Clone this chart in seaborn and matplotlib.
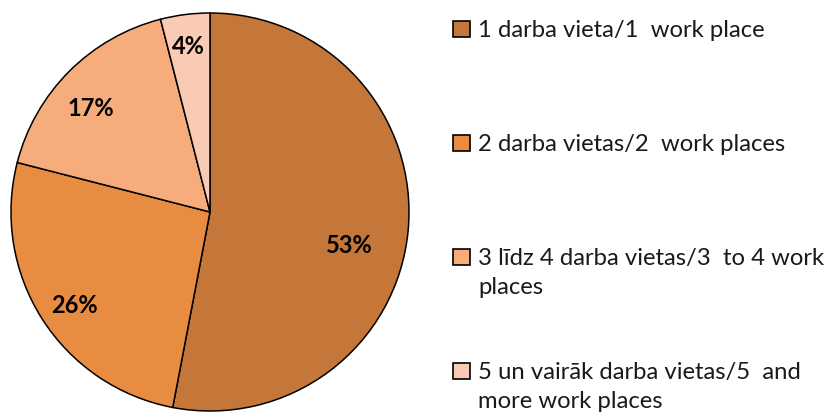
import matplotlib.pyplot as plt
import seaborn as sns
from matplotlib.patches import Rectangle

# Dati / data
categories = [
    "1 darba vieta/1  work place",
    "2 darba vietas/2  work places",
    "3 līdz 4 darba vietas/3  to 4 work\nplaces",
    "5 un vairāk darba vietas/5  and\nmore work places",
]
shares = [53, 26, 17, 4]
colors = ["#C47738", "#E88C42", "#F7AC7B", "#F9CBB4"]

# label positions inside the pie (data coords, radius 1)
label_pos = [(0.70, -0.17), (-0.68, -0.47), (-0.60, 0.52), (-0.11, 0.83)]

sns.set_theme(style="white")
plt.rcParams["font.family"] = ["Lato", "DejaVu Sans"]

W, H = 827, 412
fig = plt.figure(figsize=(W / 100, H / 100), dpi=100)
ax = fig.add_axes([11 / W, 1 / H, 398 / W, 398 / H])

wedges, texts, autotexts = ax.pie(
    shares,
    colors=colors,
    startangle=90,
    counterclock=False,
    autopct="%1.0f%%",
    wedgeprops=dict(edgecolor="black", linewidth=1.1),
    textprops=dict(fontsize=17, fontweight="bold", color="black"),
)
for t, (x, y) in zip(autotexts, label_pos):
    t.set_position((x, y))
    t.set_ha("center")
    t.set_va("center")
ax.set_xlim(-1, 1)
ax.set_ylim(-1, 1)
ax.set_aspect("equal")
ax.axis("off")

# legenda
for i, (lab, col) in enumerate(zip(categories, colors)):
    y = 29 + i * 114
    fig.patches.append(Rectangle((453 / W, 1 - (y + 8) / H), 17 / W, 16 / H,
                                 transform=fig.transFigure, facecolor=col,
                                 edgecolor="black", linewidth=1.2))
    fig.text(478 / W, 1 - (y - 9) / H, lab, fontsize=17.2, va="top", ha="left",
             color="#1a1a1a", linespacing=1.45)

fig.savefig("out.png", dpi=100)
